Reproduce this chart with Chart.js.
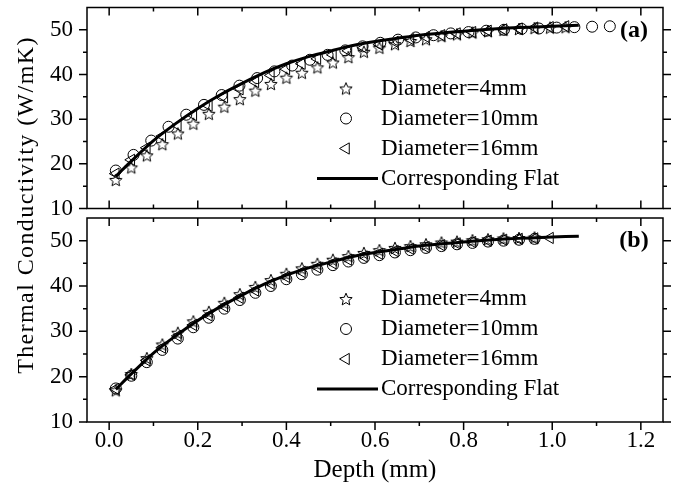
<!DOCTYPE html>
<html>
<head>
  <title>Thermal Conductivity vs Depth</title>
  <script src="https://cdn.jsdelivr.net/npm/chart.js"></script>
  <style>
    body { margin: 0; background: #fff; }
    #wrap { position: relative; width: 674px; height: 494px; }
    #wrap canvas { position: absolute; left: 0; top: 0; }
  </style>
</head>
<body>
<div id="wrap">
  <canvas id="chartA" width="674" height="494"></canvas>
  <canvas id="chartB" width="674" height="494"></canvas>
</div>
<script>
  // axis ticks
  const xTicks = [0, 0.2, 0.4, 0.6, 0.8, 1.0, 1.2];
  const xMinor = [0.1, 0.3, 0.5, 0.7, 0.9, 1.1];
  const yTicks = [10, 20, 30, 40, 50];
  const yMinor = [15, 25, 35, 45];
  const labels = ['Diameter=4mm', 'Diameter=10mm', 'Diameter=16mm', 'Corresponding Flat'];

  // depth values (mm)
  const depth = [0.015, 0.05, 0.085, 0.12, 0.155, 0.19, 0.225, 0.26, 0.295, 0.33,
                 0.365, 0.4, 0.435, 0.47, 0.505, 0.54, 0.575, 0.61, 0.645, 0.68,
                 0.715, 0.75, 0.785, 0.82, 0.855, 0.89, 0.925, 0.96, 0.995, 1.03];
  const depthC = [0.015, 0.055, 0.095, 0.134, 0.174, 0.214, 0.254, 0.294, 0.334, 0.373,
                  0.413, 0.453, 0.493, 0.533, 0.572, 0.612, 0.652, 0.692, 0.732, 0.771,
                  0.811, 0.851, 0.891, 0.931, 0.97, 1.01, 1.05, 1.09, 1.13];
  const flatX = [0.015, 0.05, 0.1, 0.15, 0.2, 0.25, 0.3, 0.35, 0.4, 0.45, 0.5, 0.55,
                 0.6, 0.65, 0.7, 0.75, 0.8, 0.85, 0.9, 0.95, 1.0, 1.06];
  const flatY = [17.2, 20.6, 25.2, 29.0, 32.4, 35.4, 38.0, 40.4, 42.4, 44.0, 45.3, 46.5,
                 47.4, 48.1, 48.8, 49.3, 49.7, 50.1, 50.4, 50.6, 50.8, 51.0];

  // panel (a)
  const starA = [16.4, 19.2, 21.9, 24.4, 26.8, 29.0, 31.2, 32.8, 34.5, 36.4,
                 37.9, 39.3, 40.4, 41.6, 42.7, 43.9, 45.1, 46.0, 46.8, 47.5,
                 47.9, 48.6, 49.0, 49.4, 49.7, 50.0, 50.2, 50.4, 50.5, 50.6];
  const circA = [18.5, 22.0, 25.2, 28.3, 31.0, 33.2, 35.4, 37.5, 39.2, 40.7,
                 42.0, 43.3, 44.4, 45.4, 46.3, 47.1, 47.8, 48.3, 48.8, 49.2,
                 49.5, 49.8, 50.0, 50.2, 50.3, 50.5, 50.6, 50.7, 50.8];
  const triA  = [17.8, 20.9, 23.6, 26.2, 28.6, 30.9, 33.0, 34.9, 36.7, 38.3,
                 39.8, 41.2, 42.4, 43.5, 44.4, 45.3, 46.0, 46.7, 47.3, 47.9,
                 48.4, 48.8, 49.2, 49.5, 49.8, 50.1, 50.3, 50.5, 50.6, 50.8];

  // panel (b)
  const starB = [17.0, 20.6, 24.1, 27.1, 29.7, 32.2, 34.3, 36.3, 38.2, 39.8,
                 41.3, 42.7, 43.9, 44.9, 45.8, 46.6, 47.3, 47.9, 48.4, 48.8,
                 49.2, 49.6, 49.8, 50.1, 50.3, 50.5, 50.6, 50.7];
  const circB = [17.4, 20.2, 23.2, 25.9, 28.4, 30.9, 33.0, 35.0, 36.9, 38.5,
                 40.0, 41.5, 42.6, 43.6, 44.6, 45.4, 46.2, 46.8, 47.4, 47.9,
                 48.4, 48.8, 49.2, 49.5, 49.8, 50.0, 50.2, 50.4];
  const triB  = [17.3, 20.4, 23.6, 26.4, 29.0, 31.4, 33.5, 35.5, 37.4, 39.0,
                 40.5, 42.0, 43.1, 44.1, 45.0, 45.8, 46.5, 47.1, 47.7, 48.2,
                 48.6, 49.0, 49.4, 49.7, 50.0, 50.2, 50.4, 50.5, 50.6];

  const FONT = "'Liberation Serif', 'Times New Roman', serif";
  const pts = (xs, ys) => ys.map((y, i) => ({x: xs[i], y: y}));

  function starImage(r) {
    const s = Math.ceil(r * 2 + 3);
    const c = document.createElement('canvas');
    c.width = c.height = s;
    const g = c.getContext('2d');
    g.beginPath();
    for (let i = 0; i < 10; i++) {
      const a = -Math.PI / 2 + i * Math.PI / 5;
      const rr = i % 2 ? r * 0.45 : r;
      g.lineTo(s / 2 + rr * Math.cos(a), s / 2 + rr * Math.sin(a) + r * 0.1);
    }
    g.closePath();
    g.lineWidth = 1;
    g.strokeStyle = '#000';
    g.stroke();
    return c;
  }
  const star = starImage(6.5);

  const markers = [
    {pointStyle: star, radius: 6.5, rotation: 0, borderWidth: 1},
    {pointStyle: 'circle', radius: 5.5, rotation: 0, borderWidth: 1},
    {pointStyle: 'triangle', radius: 6.5, rotation: -90, borderWidth: 1}
  ];

  function datasets(s, c, t, sx, cx, tx) {
    const mk = (i, data) => ({
      label: labels[i], data: data, showLine: false,
      pointStyle: markers[i].pointStyle, pointRadius: markers[i].radius,
      pointRotation: markers[i].rotation, pointBorderColor: '#000',
      pointBackgroundColor: 'rgba(0,0,0,0)', pointBorderWidth: 1
    });
    return [
      {label: labels[3], data: pts(flatX, flatY), showLine: true, borderColor: '#000',
       borderWidth: 3, pointRadius: 0, tension: 0.3},
      mk(0, pts(sx, s)), mk(1, pts(cx, c)), mk(2, pts(tx, t))
    ];
  }

  // frame and tick marks (in/out per edge)
  const framePlugin = {
    id: 'frame',
    afterDraw(chart, args, opts) {
      const {ctx, chartArea: a} = chart;
      const x = chart.scales.x, y = chart.scales.y;
      ctx.save();
      ctx.strokeStyle = '#000';
      ctx.lineWidth = 1.5;
      ctx.strokeRect(a.left, a.top, a.right - a.left, a.bottom - a.top);
      ctx.beginPath();
      const seg = (x1, y1, x2, y2) => { ctx.moveTo(x1, y1); ctx.lineTo(x2, y2); };
      const xm = (vals, len) => vals.forEach(v => {
        const p = x.getPixelForValue(v);
        seg(p, a.top, p, a.top + len);
        seg(p, a.bottom, p, a.bottom + (opts.bottomOut ? len : -len));
      });
      const ym = (vals, len) => vals.forEach(v => {
        const p = y.getPixelForValue(v);
        seg(a.left, p, a.left - len, p);
        seg(a.right, p, a.right + len, p);
      });
      xm(xTicks, 8); xm(xMinor, 4);
      ym(yTicks, 8); ym(yMinor, 4);
      ctx.stroke();
      ctx.restore();
    }
  };

  // legend, panel letter, shared y title
  const notePlugin = {
    id: 'note',
    afterDraw(chart, args, opts) {
      const {ctx, chartArea: a} = chart;
      ctx.save();
      ctx.strokeStyle = '#000';
      ctx.font = '23px ' + FONT;
      ctx.textBaseline = 'middle';
      ctx.textAlign = 'left';
      labels.forEach((t, i) => {
        const yy = a.top + 81 + 30 * i;
        if (i < 3) {
          ctx.lineWidth = 1;
          ctx.fillStyle = 'rgba(0,0,0,0)';
          Chart.helpers.drawPoint(ctx, markers[i], 346, yy);
        } else {
          ctx.lineWidth = 3;
          ctx.beginPath(); ctx.moveTo(317, yy); ctx.lineTo(378, yy); ctx.stroke();
        }
        ctx.fillStyle = '#000';
        ctx.fillText(t, 381, yy);
      });
      ctx.font = 'bold 24px ' + FONT;
      ctx.textAlign = 'center';
      ctx.fillText(opts.panel, 634, a.top + 23);
      if (opts.yTitle) {
        ctx.font = '24px ' + FONT;
        ctx.letterSpacing = '1.4px';
        ctx.translate(27, 205);
        ctx.rotate(-Math.PI / 2);
        ctx.fillText('Thermal Conductivity (W/mK)', 0, 0);
      }
      ctx.restore();
    }
  };

  function makeChart(id, ds, bottom) {
    return new Chart(document.getElementById(id), {
      type: 'scatter',
      data: {datasets: ds},
      plugins: [framePlugin, notePlugin],
      options: {
        responsive: false, animation: false, devicePixelRatio: 1,
        layout: {padding: {left: 0, right: 11, top: bottom ? 218 : 5, bottom: 0}},
        plugins: {
          legend: {display: false}, tooltip: {enabled: false},
          frame: {bottomOut: bottom},
          note: {panel: bottom ? '(b)' : '(a)', yTitle: bottom}
        },
        scales: {
          x: {
            type: 'linear', min: -0.05, max: 1.25,
            grid: {display: false, drawTicks: false}, border: {display: false},
            afterBuildTicks: s => { s.ticks = xTicks.map(v => ({value: v})); },
            afterFit: s => { s.height = bottom ? 72 : 494 - 208.5; s.paddingLeft = 0; s.paddingRight = 0; },
            ticks: {display: bottom, padding: 5, color: '#000', maxRotation: 0,
                    font: {family: FONT, size: 23}, callback: v => v.toFixed(1)},
            title: {display: bottom, text: 'Depth (mm)', color: '#000',
                    font: {family: FONT, size: 25}, padding: {top: 0, bottom: 9}}
          },
          y: {
            min: 10, max: 55,
            grid: {display: false, drawTicks: false}, border: {display: false},
            afterBuildTicks: s => { s.ticks = yTicks.map(v => ({value: v})); },
            afterFit: s => { s.width = 87; s.paddingTop = 0; s.paddingBottom = 0; },
            ticks: {padding: 14, color: '#000', font: {family: FONT, size: 23}}
          }
        }
      }
    });
  }

  makeChart('chartA', datasets(starA, circA, triA, depth, depthC, depth), false);
  makeChart('chartB', datasets(starB, circB, triB, depth.slice(0, 28), depth.slice(0, 28), depth.slice(0, 29)), true);
</script>
</body>
</html>
